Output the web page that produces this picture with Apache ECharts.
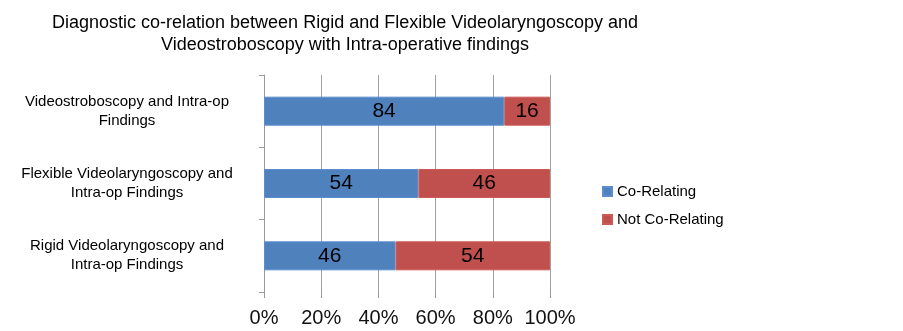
<!DOCTYPE html>
<html>
<head>
<meta charset="utf-8">
<script src="https://cdn.jsdelivr.net/npm/echarts@6/dist/echarts.min.js"></script>
<style>
  html, body { margin: 0; padding: 0; background: #fff; }
  #chart { width: 903px; height: 331px; }
</style>
</head>
<body>
<div id="chart"></div>
<script>
// categories, bottom to top
const categories = [
  'Rigid Videolaryngoscopy and\nIntra-op Findings',
  'Flexible Videolaryngoscopy and\nIntra-op Findings',
  'Videostroboscopy and Intra-op\nFindings'
];
const coRelating = [46, 54, 84];
const notCoRelating = [54, 46, 16];
const seriesNames = ['Co-Relating', 'Not Co-Relating'];

const chart = echarts.init(document.getElementById('chart'));

const font = 'Liberation Sans Narrow, Liberation Sans, Arial, sans-serif';
const labelFont = 'Liberation Sans, Arial, sans-serif';

chart.setOption({
  animation: false,
  title: {
    text: 'Diagnostic co-relation between Rigid and Flexible Videolaryngoscopy and\nVideostroboscopy with Intra-operative findings',
    left: 340,
    top: 7,
    textAlign: 'center',
    textStyle: {
      fontFamily: font,
      fontSize: 18,
      fontWeight: 'normal',
      color: '#000',
      lineHeight: 22
    }
  },
  legend: {
    orient: 'vertical',
    left: 597,
    top: 179,
    itemWidth: 9,
    itemHeight: 9,
    itemGap: 13,
    icon: 'rect',
    textStyle: { fontFamily: labelFont, fontSize: 15, color: '#000' },
    data: seriesNames
  },
  grid: { left: 264, right: 353, top: 75, bottom: 39 },
  xAxis: {
    type: 'value',
    min: 0,
    max: 100,
    interval: 20,
    axisLine: { show: false },
    axisTick: { show: true, length: 6, lineStyle: { color: '#999' } },
    splitLine: { show: true, lineStyle: { color: '#a0a0a0', width: 1 } },
    axisLabel: {
      formatter: '{value}%',
      fontFamily: labelFont,
      fontSize: 20,
      color: '#111',
      margin: 16
    }
  },
  yAxis: {
    type: 'category',
    data: categories,
    axisLine: { show: true, lineStyle: { color: '#999' } },
    axisTick: { show: true, length: 5, lineStyle: { color: '#999' } },
    axisLabel: {
      align: 'center',
      margin: 137,
      fontFamily: labelFont,
      fontSize: 15,
      lineHeight: 19,
      color: '#000'
    }
  },
  series: [
    {
      name: seriesNames[0],
      type: 'bar',
      stack: 'total',
      barWidth: 29,
      data: coRelating,
      itemStyle: { color: '#4F81BD', borderColor: '#5B8DD0', borderWidth: 1 },
      label: { show: true, position: 'inside', fontFamily: labelFont, fontSize: 21, color: '#000' }
    },
    {
      name: seriesNames[1],
      type: 'bar',
      stack: 'total',
      barWidth: 29,
      data: notCoRelating,
      itemStyle: { color: '#C0504D', borderColor: '#CC5A57', borderWidth: 1 },
      label: { show: true, position: 'inside', fontFamily: labelFont, fontSize: 21, color: '#000' }
    }
  ]
});
</script>
</body>
</html>
